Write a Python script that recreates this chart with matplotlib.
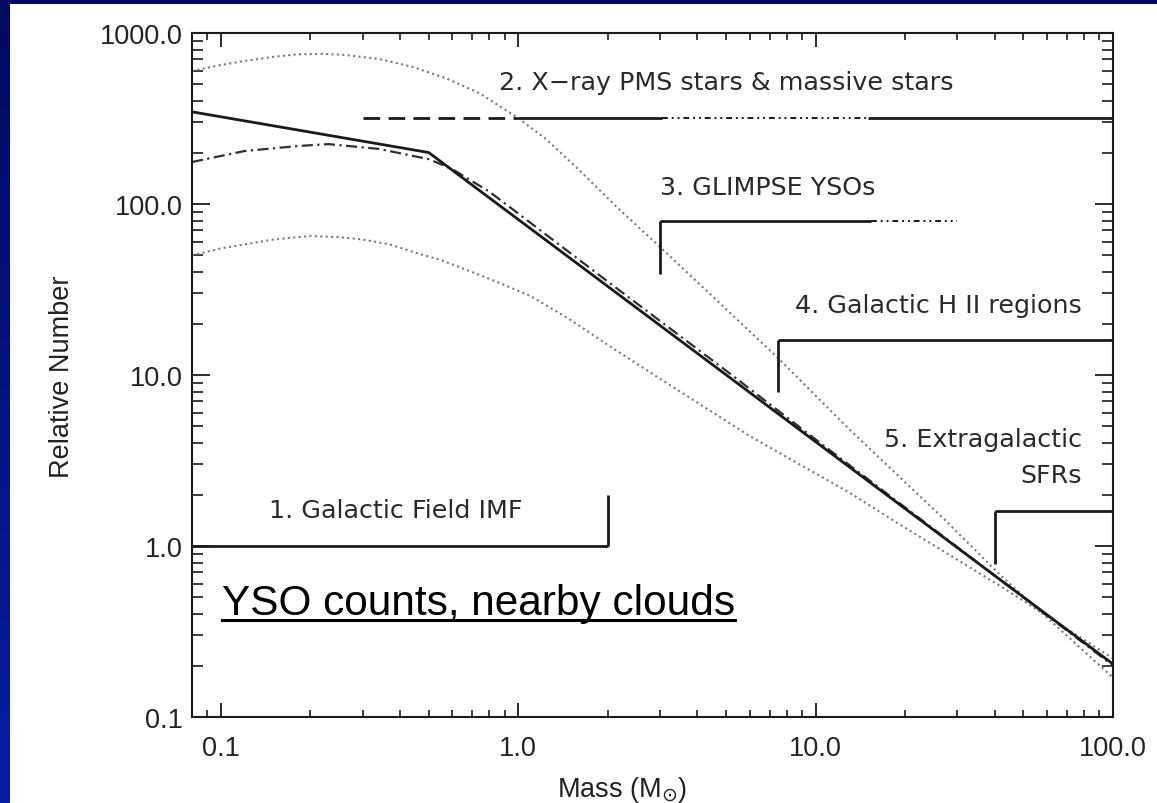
import numpy as np
import matplotlib
matplotlib.use("Agg")
import matplotlib.pyplot as plt
from matplotlib.ticker import LogLocator, FuncFormatter, NullFormatter
from matplotlib.patches import Rectangle
from matplotlib.lines import Line2D
from matplotlib.colors import LinearSegmentedColormap

# ---------------- data ----------------
# Kroupa-type broken power law
kroupa_mass = [0.08, 0.5, 100.0]
kroupa_n = [346, 200, 0.204]

# lognormal + power-law tail (dash-dot)
chab_mass = [0.08, 0.12, 0.18, 0.23, 0.34, 0.5, 0.6, 0.8, 1.0, 2.0, 5.0, 10.0, 20.0, 50.0, 100.0]
chab_n = [176, 204, 218, 224, 210, 183, 160, 118, 88, 35.2, 10.6, 4.2, 1.68, 0.5, 0.2]

# upper and lower dotted envelopes
upper_mass = [0.08, 0.10, 0.12, 0.15, 0.18, 0.22, 0.26, 0.34, 0.44, 0.57, 0.74, 1.0,
              1.24, 1.64, 2.2, 3.0, 7.5, 13.0, 27.0, 42.0, 100.0]
upper_n = [600, 650, 686, 725, 750, 755, 745, 705, 635, 545, 445, 318,
           240, 152, 92, 56, 12.5, 4.8, 1.44, 0.67, 0.17]
lower_mass = [0.08, 0.10, 0.12, 0.15, 0.2, 0.25, 0.3, 0.37, 0.45, 0.55, 0.7, 0.85, 1.1, 1.5,
              2.0, 3.0, 6.0, 13.0, 19.0, 42.0, 100.0]
lower_n = [50, 55, 58, 62, 65, 64, 62, 58, 52, 47, 40, 35, 29, 21,
           15, 9.5, 4.4, 2.05, 1.35, 0.58, 0.22]

# mass ranges probed by each method
field_range = [0.08, 2.0]
field_level = 1.0
field_tick = [1.0, 2.0]

xray_level = 320
xray_dashed = [0.3, 1.0]
xray_solid_a = [1.0, 3.05]
xray_dotted = [3.05, 15.0]
xray_solid_b = [15.0, 100.0]

glimpse_level = 80
glimpse_solid = [3.0, 15.4]
glimpse_dotted = [15.4, 30.0]
glimpse_tick = [39, 80]

hii_level = 16
hii_range = [7.5, 100.0]
hii_tick = [8.0, 16]

sfr_level = 1.6
sfr_range = [40.0, 100.0]
sfr_tick = [0.78, 1.6]

labels = ["1. Galactic Field IMF", "2. X\u2212ray PMS stars & massive stars",
          "3. GLIMPSE YSOs", "4. Galactic H II regions", "5. Extragalactic", "SFRs"]

x_ticks = [0.1, 1.0, 10.0, 100.0]
y_ticks = [0.1, 1.0, 10.0, 100.0, 1000.0]

# ---------------- figure ----------------
W, H = 1157, 804
plt.rcParams["font.family"] = ["Liberation Sans", "DejaVu Sans"]
plt.rcParams["mathtext.fontset"] = "dejavusans"
fig = plt.figure(figsize=(W / 100, H / 100), dpi=100)

# slide backdrop with a white panel
bg = fig.add_axes([0, 0, 1, 1])
bg.set_axis_off()
cmap = LinearSegmentedColormap.from_list("slide", ["#000a62", "#0a1ca4"])
bg.imshow(np.linspace(0, 1, 256).reshape(-1, 1), aspect="auto", cmap=cmap,
          extent=(0, 1, 0, 1), origin="upper")
bg.add_patch(Rectangle((10 / W, 0), 1, 1 - 5 / H, color="white", lw=0))
bg.set_xlim(0, 1)
bg.set_ylim(0, 1)

ax = fig.add_axes([192 / W, 1 - 718 / H, (1113 - 192) / W, (718 - 34) / H])
ax.set_facecolor("none")
ax.set_xscale("log")
ax.set_yscale("log")
ax.set_xlim(0.08, 100)
ax.set_ylim(0.1, 1000)

ink = "#1a1a1a"
dot_col = "#7a7a7a"

ax.plot(upper_mass, upper_n, color=dot_col, lw=1.5, ls=(0, (1, 1.6)))
ax.plot(lower_mass, lower_n, color=dot_col, lw=1.5, ls=(0, (1, 1.6)))
ax.plot(chab_mass, chab_n, color="#303030", lw=1.6, ls=(0, (5, 2, 1, 2)))
ax.plot(kroupa_mass, kroupa_n, color=ink, lw=2.0, solid_joinstyle="round")

bk = dict(color=ink, lw=2.0, solid_capstyle="butt")
fine = dict(color=ink, lw=1.4, ls=(0, (3, 2, 1, 2, 1, 2)), dash_capstyle="butt")

# 1. field IMF
ax.plot(field_range, [field_level] * 2, **bk)
ax.plot([field_range[1]] * 2, field_tick, **bk)
# 2. X-ray
ax.plot(xray_dashed, [xray_level] * 2, color=ink, lw=2.0, ls=(0, (6, 3)))
ax.plot(xray_solid_a, [xray_level] * 2, **bk)
ax.plot(xray_dotted, [xray_level] * 2, **fine)
ax.plot(xray_solid_b, [xray_level] * 2, **bk)
# 3. GLIMPSE
ax.plot(glimpse_solid, [glimpse_level] * 2, **bk)
ax.plot(glimpse_dotted, [glimpse_level] * 2, **fine)
ax.plot([glimpse_solid[0]] * 2, glimpse_tick, **bk)
# 4. H II regions
ax.plot(hii_range, [hii_level] * 2, **bk)
ax.plot([hii_range[0]] * 2, hii_tick, **bk)
# 5. extragalactic
ax.plot(sfr_range, [sfr_level] * 2, **bk)
ax.plot([sfr_range[0]] * 2, sfr_tick, **bk)

tk = dict(family="DejaVu Sans", fontsize=18.3, color="#2a2a2a", va="baseline")
ax.text(0.145, 1.48, labels[0], ha="left", **tk)
ax.text(5.0, 470, labels[1], ha="center", **tk)
ax.text(3.0, 114, labels[2], ha="left", **tk)
ax.text(78.7, 23.3, labels[3], ha="right", **tk)
ax.text(78.7, 3.85, labels[4], ha="right", **tk)
ax.text(78.7, 2.37, labels[5], ha="right", **tk)

# axes styling
for s in ax.spines.values():
    s.set_linewidth(1.5)
    s.set_color(ink)
fmt = FuncFormatter(lambda v, p: f"{v:.1f}")
ax.xaxis.set_major_locator(LogLocator(base=10, subs=(1.0,), numticks=10))
ax.xaxis.set_minor_locator(LogLocator(base=10, subs=np.arange(2, 10), numticks=20))
ax.yaxis.set_major_locator(LogLocator(base=10, subs=(1.0,), numticks=10))
ax.yaxis.set_minor_locator(LogLocator(base=10, subs=np.arange(2, 10), numticks=20))
ax.xaxis.set_major_formatter(fmt)
ax.yaxis.set_major_formatter(fmt)
ax.xaxis.set_minor_formatter(NullFormatter())
ax.yaxis.set_minor_formatter(NullFormatter())
ax.tick_params(axis="x", which="major", direction="in", top=True, bottom=True,
               length=10, width=1.3, color=ink, pad=13, labelsize=19.5, labelcolor="#222222")
ax.tick_params(axis="x", which="minor", direction="in", top=True, bottom=True,
               length=5, width=1.2, color=ink)
ax.tick_params(axis="y", which="major", direction="in", left=True, right=True,
               length=13, width=1.3, color=ink, pad=6.5, labelsize=19.5, labelcolor="#222222")
ax.tick_params(axis="y", which="minor", direction="in", left=True, right=True,
               length=8, width=1.2, color=ink)

fig.text(62 / W, 1 - 377 / H, "Relative Number", rotation=90, ha="center", va="center",
         fontsize=19.5, color="#222222")
fig.text(622 / W, 1 - 790 / H, r"Mass (M$_{\odot}$)", ha="center", va="center",
         fontsize=19.5, color="#222222")

yso = fig.text(222 / W, 1 - 615 / H, "YSO counts, nearby clouds", ha="left", va="baseline",
               fontsize=30.5, family="Liberation Sans", color="black")
fig.canvas.draw()
bb = yso.get_window_extent()
y_ul = 1 - 621 / H
fig.add_artist(Line2D([bb.x0 / W, bb.x1 / W], [y_ul, y_ul], transform=fig.transFigure,
                      color="black", lw=2.2))

fig.savefig("out.png", dpi=100)
